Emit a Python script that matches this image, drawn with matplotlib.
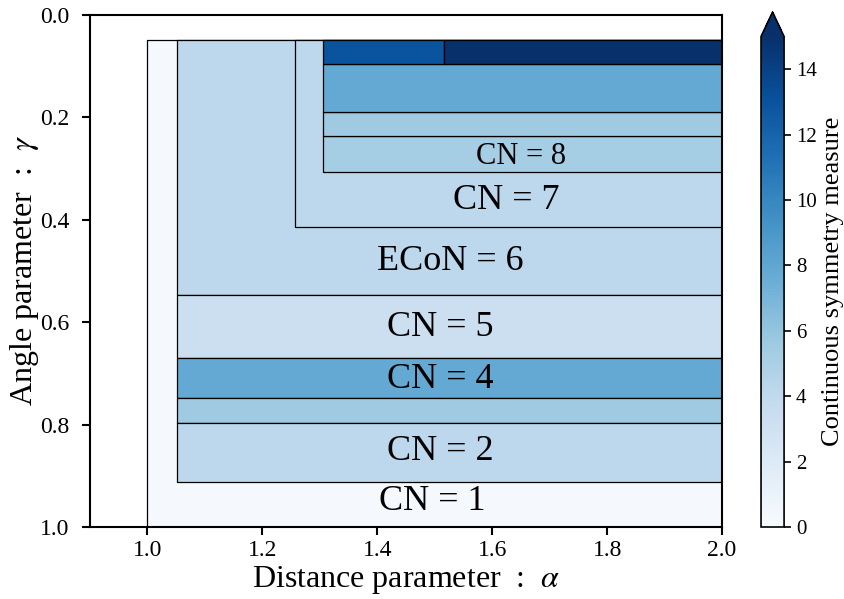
import matplotlib
matplotlib.use("Agg")
import matplotlib.pyplot as plt
from matplotlib.patches import Rectangle
from matplotlib.collections import PatchCollection
from matplotlib.colors import Normalize

plt.rcParams["font.family"] = ["Liberation Serif", "DejaVu Serif"]
plt.rcParams["mathtext.fontset"] = "stix"

# regions: distance (alpha) range, angle (gamma) range, csm value
x_lo = [1.0, 1.052, 1.256, 1.306, 1.306, 1.306, 1.306, 1.516, 1.052, 1.052, 1.052, 1.052]
x_hi = [2.0, 2.0, 2.0, 2.0, 2.0, 2.0, 1.516, 2.0, 2.0, 2.0, 2.0, 2.0]
y_lo = [0.048, 0.048, 0.048, 0.236, 0.189, 0.096, 0.048, 0.048, 0.547, 0.670, 0.748, 0.797]
y_hi = [1.0, 0.547, 0.414, 0.307, 0.236, 0.189, 0.096, 0.096, 0.670, 0.748, 0.797, 0.912]
csm = [0.2, 4.2, 4.2, 5.3, 5.6, 7.8, 13.0, 16.0, 3.3, 7.8, 5.6, 4.2]

labels = ["CN = 8", "CN = 7", "ECoN = 6", "CN = 5", "CN = 4", "CN = 2", "CN = 1"]
label_x = [1.650, 1.624, 1.527, 1.510, 1.510, 1.510, 1.496]
label_y = [0.276, 0.362, 0.482, 0.610, 0.712, 0.853, 0.950]
label_size = [22, 26, 26, 26, 26, 26, 26]

fig = plt.figure(figsize=(8.44, 5.99), dpi=100)
ax = fig.add_axes([0.1066, 0.1202, 0.7489, 0.8548])
cax = fig.add_axes([0.9017, 0.1202, 0.0273, 0.8598])

cmap = plt.get_cmap("Blues")
norm = Normalize(vmin=0, vmax=15)

rects = [Rectangle((x0, y0), x1 - x0, y1 - y0)
         for x0, x1, y0, y1 in zip(x_lo, x_hi, y_lo, y_hi)]
pc = PatchCollection(rects, cmap=cmap, norm=norm, edgecolor="black", linewidth=0.9)
pc.set_array(csm)
ax.add_collection(pc)

for lab, lx, ly, ls in zip(labels, label_x, label_y, label_size):
    ax.text(lx, ly, lab, ha="center", va="center", fontsize=ls)

ax.set_xlim(0.9, 2.0)
ax.set_ylim(1.0, 0.0)
ax.set_xticks([1.0, 1.2, 1.4, 1.6, 1.8, 2.0])
ax.set_yticks([0.0, 0.2, 0.4, 0.6, 0.8, 1.0])
ax.set_xlabel(r"Distance parameter  :  $\alpha$", fontsize=23, labelpad=2)
ax.set_ylabel(r"Angle parameter  :  $\gamma$", fontsize=23, labelpad=-1)
ax.tick_params(labelsize=17, length=6, width=1.5, direction="out")
ax.tick_params(axis="y", pad=9)
for sp in ax.spines.values():
    sp.set_linewidth(1.5)

cb = fig.colorbar(pc, cax=cax, extend="max")
cb.set_ticks([0, 2, 4, 6, 8, 10, 12, 14])
cb.set_label("Continuous symmetry measure", fontsize=19)
cb.ax.tick_params(labelsize=15, length=5, width=1.2)
cb.outline.set_linewidth(1.2)

fig.savefig("out.png", dpi=100)
